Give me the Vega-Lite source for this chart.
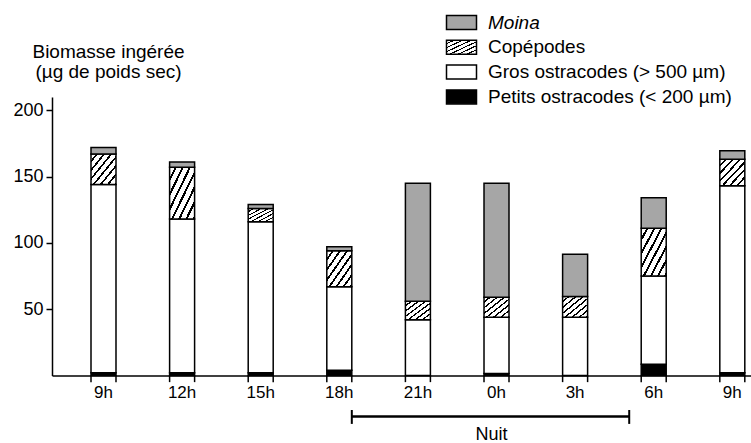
{
  "$schema": "https://vega.github.io/schema/vega-lite/v6.json",
  "width": 699,
  "height": 278.5,
  "autosize": {"type": "none"},
  "padding": {"left": 52, "top": 97, "right": 0, "bottom": 67.5},
  "background": "white",
  "config": {
    "view": {"stroke": null},
    "font": "Liberation Sans",
    "text": {"font": "Liberation Sans"}
  },
  "datasets": {
    "biomasse": [
      {"heure": "9h", "espece": "Petits ostracodes (< 200 µm)", "valeur": 2},
      {"heure": "9h", "espece": "Gros ostracodes (> 500 µm)", "valeur": 142},
      {"heure": "9h", "espece": "Copépodes", "valeur": 23},
      {"heure": "9h", "espece": "Moina", "valeur": 5},
      {"heure": "12h", "espece": "Petits ostracodes (< 200 µm)", "valeur": 2},
      {"heure": "12h", "espece": "Gros ostracodes (> 500 µm)", "valeur": 116},
      {"heure": "12h", "espece": "Copépodes", "valeur": 39},
      {"heure": "12h", "espece": "Moina", "valeur": 4},
      {"heure": "15h", "espece": "Petits ostracodes (< 200 µm)", "valeur": 2},
      {"heure": "15h", "espece": "Gros ostracodes (> 500 µm)", "valeur": 114},
      {"heure": "15h", "espece": "Copépodes", "valeur": 10},
      {"heure": "15h", "espece": "Moina", "valeur": 3},
      {"heure": "18h", "espece": "Petits ostracodes (< 200 µm)", "valeur": 4},
      {"heure": "18h", "espece": "Gros ostracodes (> 500 µm)", "valeur": 63},
      {"heure": "18h", "espece": "Copépodes", "valeur": 27},
      {"heure": "18h", "espece": "Moina", "valeur": 3},
      {"heure": "21h", "espece": "Petits ostracodes (< 200 µm)", "valeur": 0},
      {"heure": "21h", "espece": "Gros ostracodes (> 500 µm)", "valeur": 42},
      {"heure": "21h", "espece": "Copépodes", "valeur": 14},
      {"heure": "21h", "espece": "Moina", "valeur": 89},
      {"heure": "0h", "espece": "Petits ostracodes (< 200 µm)", "valeur": 1.5},
      {"heure": "0h", "espece": "Gros ostracodes (> 500 µm)", "valeur": 42.5},
      {"heure": "0h", "espece": "Copépodes", "valeur": 15},
      {"heure": "0h", "espece": "Moina", "valeur": 86},
      {"heure": "3h", "espece": "Petits ostracodes (< 200 µm)", "valeur": 0},
      {"heure": "3h", "espece": "Gros ostracodes (> 500 µm)", "valeur": 44},
      {"heure": "3h", "espece": "Copépodes", "valeur": 15.5},
      {"heure": "3h", "espece": "Moina", "valeur": 32},
      {"heure": "6h", "espece": "Petits ostracodes (< 200 µm)", "valeur": 8.5},
      {"heure": "6h", "espece": "Gros ostracodes (> 500 µm)", "valeur": 66.5},
      {"heure": "6h", "espece": "Copépodes", "valeur": 36},
      {"heure": "6h", "espece": "Moina", "valeur": 23},
      {"heure": "9h+1", "espece": "Petits ostracodes (< 200 µm)", "valeur": 2},
      {"heure": "9h+1", "espece": "Gros ostracodes (> 500 µm)", "valeur": 141},
      {"heure": "9h+1", "espece": "Copépodes", "valeur": 20},
      {"heure": "9h+1", "espece": "Moina", "valeur": 6.5}
    ],
    "nuit": [{"debut": "18h", "fin": "6h", "libelle": "Nuit"}]
  },
  "layer": [
    {
      "data": {"name": "biomasse"},
      "transform": [
        {"calculate": "indexof(['Petits ostracodes (< 200 µm)', 'Gros ostracodes (> 500 µm)', 'Copépodes', 'Moina'], datum.espece)", "as": "rang"}
      ],
      "mark": {"type": "bar", "stroke": "black", "strokeWidth": 1.5, "strokeJoin": "miter"},
      "encoding": {
        "x": {
          "field": "heure", "type": "nominal",
          "scale": {"domain": ["9h", "12h", "15h", "18h", "21h", "0h", "3h", "6h", "9h+1"], "paddingInner": 0.682, "paddingOuter": 0.2875, "align": 0.863},
          "axis": {
            "title": null, "ticks": false, "domainColor": "black", "domainWidth": 1.5,
            "labelFontSize": 17, "labelColor": "black", "labelPadding": 9, "labelAngle": 0,
            "labelExpr": "replace(datum.label, '+1', '')"
          }
        },
        "y": {
          "field": "valeur", "type": "quantitative", "stack": "zero",
          "scale": {"domain": [0, 210], "nice": false},
          "axis": {
            "values": [50, 100, 150, 200], "grid": false,
            "tickSize": 6, "tickWidth": 1.5, "tickColor": "black",
            "domainColor": "black", "domainWidth": 1.5,
            "labelFontSize": 18, "labelColor": "black", "labelPadding": 3,
            "title": ["Biomasse ingérée", "(µg de poids sec)"],
            "titleAngle": 0, "titleAlign": "center", "titleBaseline": "alphabetic",
            "titleX": 56, "titleY": -40, "titleFontSize": 19, "titleFontWeight": "normal",
            "titleLineHeight": 20, "titleColor": "black"
          }
        },
        "fill": {
          "field": "espece", "type": "nominal",
          "scale": {
            "domain": ["Moina", "Copépodes", "Gros ostracodes (> 500 µm)", "Petits ostracodes (< 200 µm)"],
            "range": [
              "#a6a6a6",
              {"expr": "{gradient: 'linear', x1: 0, y1: 0, x2: 1, y2: 1, stops: [{offset: 0, color: 'white'}, {offset: 0.1, color: 'white'}, {offset: 0.1, color: 'black'}, {offset: 0.1429, color: 'black'}, {offset: 0.1429, color: 'white'}, {offset: 0.2429, color: 'white'}, {offset: 0.2429, color: 'black'}, {offset: 0.2857, color: 'black'}, {offset: 0.2857, color: 'white'}, {offset: 0.3857, color: 'white'}, {offset: 0.3857, color: 'black'}, {offset: 0.4286, color: 'black'}, {offset: 0.4286, color: 'white'}, {offset: 0.5286, color: 'white'}, {offset: 0.5286, color: 'black'}, {offset: 0.5714, color: 'black'}, {offset: 0.5714, color: 'white'}, {offset: 0.6714, color: 'white'}, {offset: 0.6714, color: 'black'}, {offset: 0.7143, color: 'black'}, {offset: 0.7143, color: 'white'}, {offset: 0.8143, color: 'white'}, {offset: 0.8143, color: 'black'}, {offset: 0.8571, color: 'black'}, {offset: 0.8571, color: 'white'}, {offset: 0.9571, color: 'white'}, {offset: 0.9571, color: 'black'}, {offset: 1, color: 'black'}]}"},
              "white",
              "black"
            ]
          },
          "legend": {
            "orient": "none", "legendX": 400, "legendY": -84,
            "title": null, "padding": 0, "offset": 0,
            "symbolType": "M-1.875,-0.875H1.875V0.875H-1.875Z", "symbolSize": 256,
            "symbolStrokeColor": "black", "symbolStrokeWidth": 1.5, "symbolOpacity": 1,
            "labelFontSize": 19, "labelColor": "black", "labelOffset": 17, "labelLimit": 400,
            "rowPadding": 3.8,
            "encode": {
              "labels": {
                "update": {
                  "fontStyle": [
                    {"test": "datum.value === 'Moina'", "value": "italic"},
                    {"value": "normal"}
                  ]
                }
              }
            }
          }
        },
        "order": {"field": "rang", "type": "quantitative"}
      }
    },
    {
      "data": {"name": "biomasse"},
      "transform": [{"filter": "datum.espece === 'Moina'"}],
      "mark": {"type": "rule", "color": "black", "strokeWidth": 1.5},
      "encoding": {
        "x": {"field": "heure", "type": "nominal", "bandPosition": 0,
              "scale": {"domain": ["9h", "12h", "15h", "18h", "21h", "0h", "3h", "6h", "9h+1"], "paddingInner": 0.682, "paddingOuter": 0.2875, "align": 0.863}},
        "y": {"datum": 0},
        "y2": {"datum": -5}
      }
    },
    {
      "data": {"name": "biomasse"},
      "transform": [{"filter": "datum.espece === 'Moina'"}],
      "mark": {"type": "rule", "color": "black", "strokeWidth": 1.5},
      "encoding": {
        "x": {"field": "heure", "type": "nominal", "bandPosition": 1,
              "scale": {"domain": ["9h", "12h", "15h", "18h", "21h", "0h", "3h", "6h", "9h+1"], "paddingInner": 0.682, "paddingOuter": 0.2875, "align": 0.863}},
        "y": {"datum": 0},
        "y2": {"datum": -5}
      }
    },
    {
      "data": {"name": "nuit"},
      "mark": {"type": "rule", "color": "black", "strokeWidth": 2.5, "x2Offset": -12},
      "encoding": {
        "x": {"field": "debut", "type": "nominal", "bandPosition": 1,
              "scale": {"domain": ["9h", "12h", "15h", "18h", "21h", "0h", "3h", "6h", "9h+1"], "paddingInner": 0.682, "paddingOuter": 0.2875, "align": 0.863}},
        "x2": {"field": "fin", "bandPosition": 0},
        "y": {"datum": -31}
      }
    },
    {
      "data": {"name": "nuit"},
      "mark": {"type": "rule", "color": "black", "strokeWidth": 2},
      "encoding": {
        "x": {"field": "debut", "type": "nominal", "bandPosition": 1,
              "scale": {"domain": ["9h", "12h", "15h", "18h", "21h", "0h", "3h", "6h", "9h+1"], "paddingInner": 0.682, "paddingOuter": 0.2875, "align": 0.863}},
        "y": {"datum": -26},
        "y2": {"datum": -36.5}
      }
    },
    {
      "data": {"name": "nuit"},
      "mark": {"type": "rule", "color": "black", "strokeWidth": 2, "xOffset": -12},
      "encoding": {
        "x": {"field": "fin", "type": "nominal", "bandPosition": 0,
              "scale": {"domain": ["9h", "12h", "15h", "18h", "21h", "0h", "3h", "6h", "9h+1"], "paddingInner": 0.682, "paddingOuter": 0.2875, "align": 0.863}},
        "y": {"datum": -26},
        "y2": {"datum": -36.5}
      }
    },
    {
      "data": {"name": "nuit"},
      "mark": {"type": "text", "fontSize": 18, "color": "black", "baseline": "alphabetic", "xOffset": -5},
      "encoding": {
        "x": {"datum": "0h", "type": "nominal",
              "scale": {"domain": ["9h", "12h", "15h", "18h", "21h", "0h", "3h", "6h", "9h+1"], "paddingInner": 0.682, "paddingOuter": 0.2875, "align": 0.863}},
        "y": {"datum": -49},
        "text": {"field": "libelle"}
      }
    }
  ]
}
